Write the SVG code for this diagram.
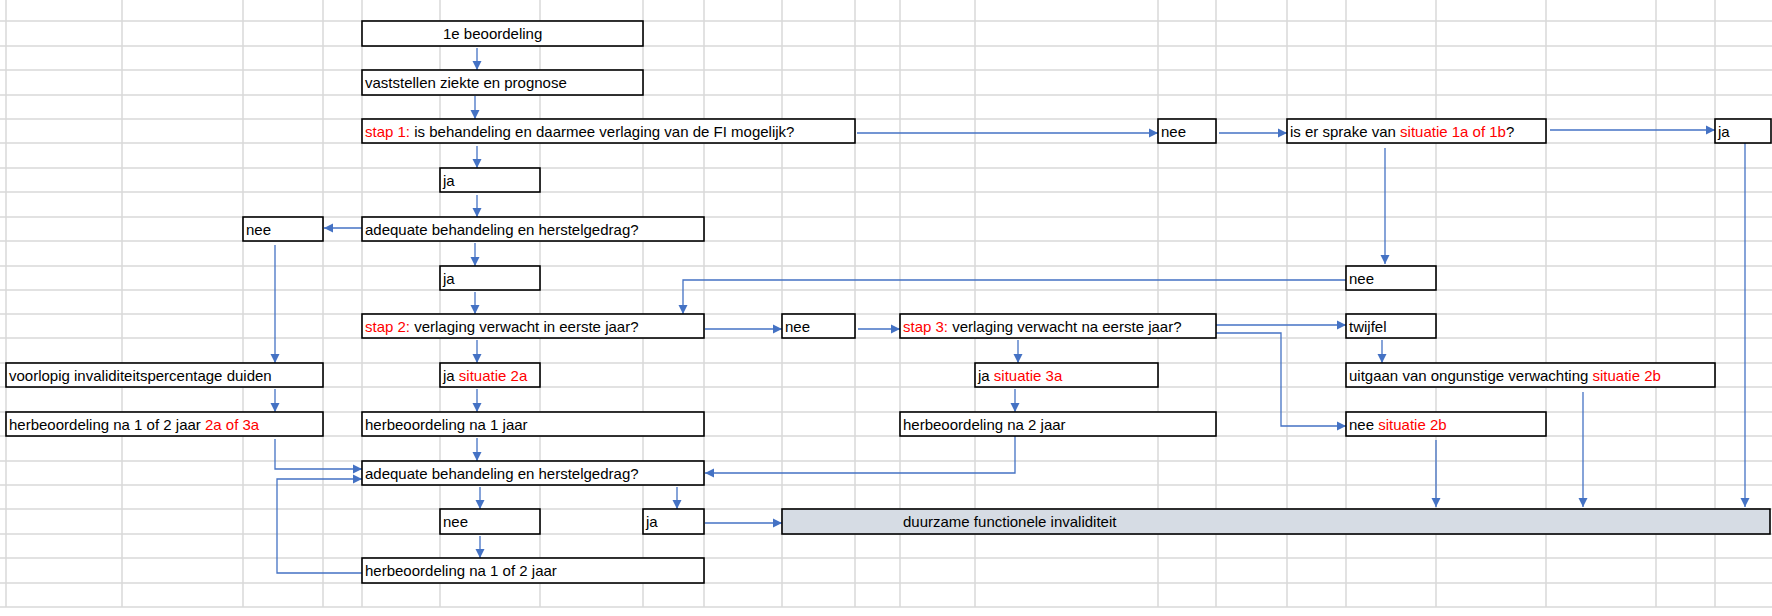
<svg xmlns="http://www.w3.org/2000/svg" width="1772" height="616" viewBox="0 0 1772 616">
<defs>
<style>
.g{stroke:#d9d9d9;stroke-width:1.5}
.b{fill:#fff;stroke:#000;stroke-width:1.6}
.t{font-family:"Liberation Sans",Arial,sans-serif;font-size:15px;fill:#000}
.r{fill:#ff0000}
.c{fill:none;stroke:#4472c4;stroke-width:1.3;marker-end:url(#a)}
</style>
<marker id="a" viewBox="0 0 10 10" refX="10" refY="5" markerWidth="7" markerHeight="7" orient="auto"><path d="M0,0L10,5L0,10z" fill="#4472c4"/></marker>
</defs>
<rect width="1772" height="616" fill="#fff"/>
<g id="grid">
<path class="g" d="M6 0V607M122 0V607M243 0V607M323 0V607M362 0V607M440 0V607M540 0V607M643 0V607M704 0V607M782 0V607M855 0V607M900 0V607M975 0V607M1158 0V607M1216 0V607M1287 0V607M1346 0V607M1436 0V607M1546 0V607M1656 0V607M1715 0V607"/>
<path class="g" d="M0 21H1772M0 46H1772M0 70H1772M0 95H1772M0 119H1772M0 143H1772M0 168H1772M0 192H1772M0 217H1772M0 241H1772M0 266H1772M0 290H1772M0 314H1772M0 338H1772M0 363H1772M0 387H1772M0 412H1772M0 436H1772M0 461H1772M0 485H1772M0 509H1772M0 534H1772M0 558H1772M0 583H1772M0 607H1772"/>
</g>
<g id="connectors">
<path class="c" d="M477 48V70"/>
<path class="c" d="M475 96V119"/>
<path class="c" d="M477 146V168"/>
<path class="c" d="M477 195V217"/>
<path class="c" d="M362 228H324"/>
<path class="c" d="M475 243V266"/>
<path class="c" d="M475 292V314"/>
<path class="c" d="M275 245V363"/>
<path class="c" d="M857 133H1158"/>
<path class="c" d="M1219 133H1287"/>
<path class="c" d="M1550 130H1715"/>
<path class="c" d="M1385 148V264"/>
<path class="c" d="M1346 280H683V314"/>
<path class="c" d="M1745 143V507"/>
<path class="c" d="M705 329H782"/>
<path class="c" d="M858 329H900"/>
<path class="c" d="M1216 325H1346"/>
<path class="c" d="M1216 333H1281V426H1346"/>
<path class="c" d="M477 340V363"/>
<path class="c" d="M477 389V412"/>
<path class="c" d="M477 438V461"/>
<path class="c" d="M275 389V412"/>
<path class="c" d="M275 439V469H362"/>
<path class="c" d="M362 573H277V479H362"/>
<path class="c" d="M480 487V509"/>
<path class="c" d="M677 487V509"/>
<path class="c" d="M480 536V558"/>
<path class="c" d="M705 523H782"/>
<path class="c" d="M1015 436V473H705"/>
<path class="c" d="M1018 340V363"/>
<path class="c" d="M1015 389V412"/>
<path class="c" d="M1382 340V363"/>
<path class="c" d="M1583 392V507"/>
<path class="c" d="M1436 440V507"/>
</g>
<g id="n1"><rect class="b" x="362" y="21" width="281" height="25"/><text class="t" x="443" y="39">1e beoordeling</text></g>
<g id="n2"><rect class="b" x="362" y="70" width="281" height="25"/><text class="t" x="365" y="88">vaststellen ziekte en prognose</text></g>
<g id="n3"><rect class="b" x="362" y="119" width="493" height="24"/><text class="t" x="365" y="137"><tspan class="r">stap 1:</tspan> is behandeling en daarmee verlaging van de FI mogelijk?</text></g>
<g id="n4"><rect class="b" x="1158" y="119" width="58" height="24"/><text class="t" x="1161" y="137">nee</text></g>
<g id="n5"><rect class="b" x="1287" y="119" width="259" height="24"/><text class="t" x="1290" y="137">is er sprake van <tspan class="r">situatie 1a of 1b</tspan>?</text></g>
<g id="n6"><rect class="b" x="1715" y="119" width="56" height="24"/><text class="t" x="1718" y="137">ja</text></g>
<g id="n7"><rect class="b" x="440" y="168" width="100" height="24"/><text class="t" x="443" y="186">ja</text></g>
<g id="n8"><rect class="b" x="243" y="217" width="80" height="24"/><text class="t" x="246" y="235">nee</text></g>
<g id="n9"><rect class="b" x="362" y="217" width="342" height="24"/><text class="t" x="365" y="235">adequate behandeling en herstelgedrag?</text></g>
<g id="n10"><rect class="b" x="440" y="266" width="100" height="24"/><text class="t" x="443" y="284">ja</text></g>
<g id="n11"><rect class="b" x="1346" y="266" width="90" height="24"/><text class="t" x="1349" y="284">nee</text></g>
<g id="n12"><rect class="b" x="362" y="314" width="342" height="24"/><text class="t" x="365" y="332"><tspan class="r">stap 2:</tspan> verlaging verwacht in eerste jaar?</text></g>
<g id="n13"><rect class="b" x="782" y="314" width="73" height="24"/><text class="t" x="785" y="332">nee</text></g>
<g id="n14"><rect class="b" x="900" y="314" width="316" height="24"/><text class="t" x="903" y="332"><tspan class="r">stap 3:</tspan> verlaging verwacht na eerste jaar?</text></g>
<g id="n15"><rect class="b" x="1346" y="314" width="90" height="24"/><text class="t" x="1349" y="332">twijfel</text></g>
<g id="n16"><rect class="b" x="6" y="363" width="317" height="24"/><text class="t" x="9" y="381">voorlopig invaliditeitspercentage duiden</text></g>
<g id="n17"><rect class="b" x="440" y="363" width="100" height="24"/><text class="t" x="443" y="381">ja <tspan class="r">situatie 2a</tspan></text></g>
<g id="n18"><rect class="b" x="975" y="363" width="183" height="24"/><text class="t" x="978" y="381">ja <tspan class="r">situatie 3a</tspan></text></g>
<g id="n19"><rect class="b" x="1346" y="363" width="369" height="24"/><text class="t" x="1349" y="381">uitgaan van ongunstige verwachting  <tspan class="r">situatie 2b</tspan></text></g>
<g id="n20"><rect class="b" x="6" y="412" width="317" height="24"/><text class="t" x="9" y="430">herbeoordeling na 1 of 2 jaar <tspan class="r">2a of 3a</tspan></text></g>
<g id="n21"><rect class="b" x="362" y="412" width="342" height="24"/><text class="t" x="365" y="430">herbeoordeling na 1 jaar</text></g>
<g id="n22"><rect class="b" x="900" y="412" width="316" height="24"/><text class="t" x="903" y="430">herbeoordeling na 2 jaar</text></g>
<g id="n23"><rect class="b" x="1346" y="412" width="200" height="24"/><text class="t" x="1349" y="430">nee <tspan class="r">situatie 2b</tspan></text></g>
<g id="n24"><rect class="b" x="362" y="461" width="342" height="24"/><text class="t" x="365" y="479">adequate behandeling en herstelgedrag?</text></g>
<g id="n25"><rect class="b" x="440" y="509" width="100" height="25"/><text class="t" x="443" y="527">nee</text></g>
<g id="n26"><rect class="b" x="643" y="509" width="61" height="25"/><text class="t" x="646" y="527">ja</text></g>
<g id="n27"><rect class="b" x="782" y="509" width="988" height="25" style="fill:#d6dce4"/><text class="t" x="903" y="527">duurzame functionele invaliditeit</text></g>
<g id="n28"><rect class="b" x="362" y="558" width="342" height="25"/><text class="t" x="365" y="576">herbeoordeling na 1 of 2 jaar</text></g>
</svg>
